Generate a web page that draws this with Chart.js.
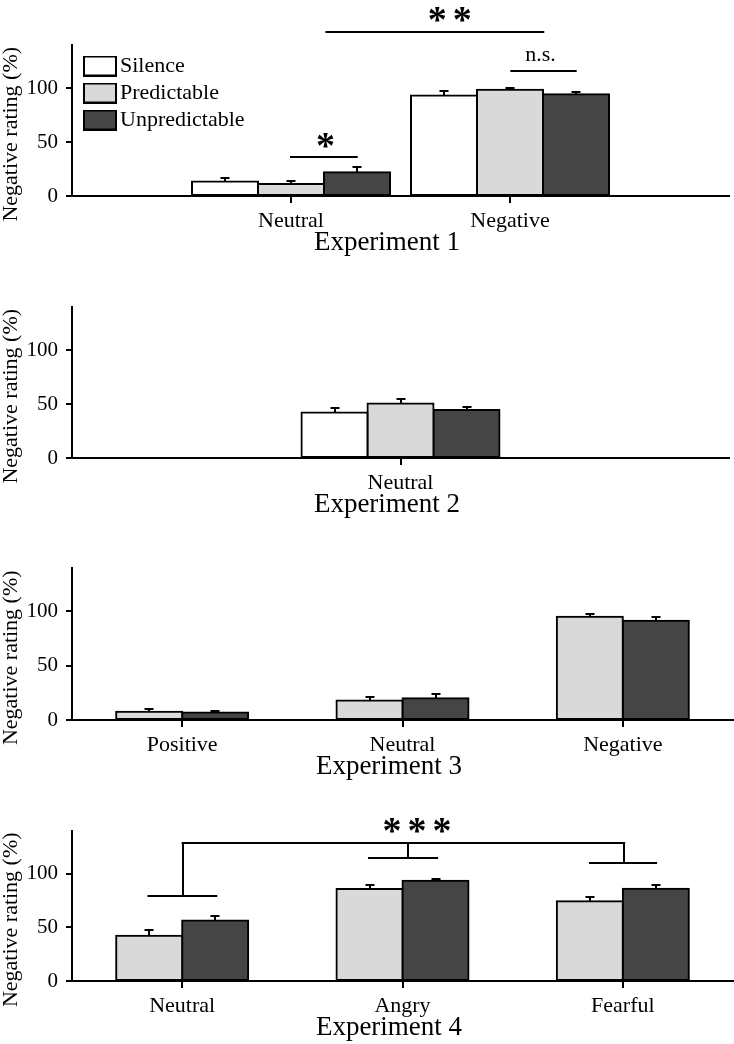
<!DOCTYPE html>
<html><head><meta charset="utf-8">
<script src="https://cdn.jsdelivr.net/npm/chart.js@4.4.0/dist/chart.umd.min.js"></script>
<style>
html,body{margin:0;padding:0;background:#fff;width:734px;height:1044px;overflow:hidden}
.p{position:absolute;left:0;width:734px}
canvas{display:block}
</style></head><body>
<div class="p" style="top:0px"><canvas id="c1" width="734" height="260"></canvas></div>
<div class="p" style="top:258px"><canvas id="c2" width="734" height="262"></canvas></div>
<div class="p" style="top:520px"><canvas id="c3" width="734" height="264"></canvas></div>
<div class="p" style="top:782px"><canvas id="c4" width="734" height="262"></canvas></div>
<script>
// ---------- DATA ----------
const seriesNames = ['Silence', 'Predictable', 'Unpredictable'];
const yTicks = [0, 50, 100];
const yMax = 140;
const yTitle = 'Negative rating (%)';

// Experiment 1
const exp1Categories = ['', 'Neutral', 'Negative', ''];
const exp1Silence = [null, 13.4, 93.2, null];
const exp1SilenceErr = [null, 3.6, 3.7, null];
const exp1Predictable = [null, 11.2, 98.4, null];
const exp1PredictableErr = [null, 2.5, 1.3, null];
const exp1Unpredictable = [null, 22.1, 94.4, null];
const exp1UnpredictableErr = [null, 4.7, 1.9, null];

// Experiment 2
const exp2Categories = ['', 'Neutral', ''];
const exp2Silence = [null, 42.3, null];
const exp2SilenceErr = [null, 3.7, null];
const exp2Predictable = [null, 50.6, null];
const exp2PredictableErr = [null, 4.3, null];
const exp2Unpredictable = [null, 44.4, null];
const exp2UnpredictableErr = [null, 2.5, null];

// Experiment 3
const exp3Categories = ['Positive', 'Neutral', 'Negative'];
const exp3Predictable = [7.7, 17.9, 95.1];
const exp3PredictableErr = [2.8, 3.7, 2.8];
const exp3Unpredictable = [6.8, 20.1, 91.4];
const exp3UnpredictableErr = [1.8, 3.7, 3.7];

// Experiment 4
const exp4Categories = ['Neutral', 'Angry', 'Fearful'];
const exp4Predictable = [42.3, 85.8, 74.4];
const exp4PredictableErr = [4.9, 4.0, 4.3];
const exp4Unpredictable = [56.5, 93.5, 86.1];
const exp4UnpredictableErr = [4.3, 2.1, 3.4];

const panelTitles = ['Experiment 1', 'Experiment 2', 'Experiment 3', 'Experiment 4'];

// Significance annotations (x in category-index units, y in data units)
const exp1SigLines = [[1.0, 1.3, 36.2], [2.006, 2.3, 115.9], [1.162, 2.152, 152]];
const exp1SigTexts = [['*', 1.158, 51.9], ['n.s.', 2.138, 129.8], ['**', 1.725, 168.3]];
const exp4SigLines = [[0.002, 2.006, 129.1], [-0.153, 0.155, 79.1], [0.848, 1.157, 115.2], [1.851, 2.151, 110.0]];
const exp4SigVLines = [[0.002, 129.1, 79.1], [1.024, 129.1, 115.2], [2.006, 129.1, 110.0]];
const exp4SigTexts = [['***', 1.066, 145.1]];

// ---------- STYLE ----------
const FONT = '"Liberation Serif", "Times New Roman", serif';
const seriesColors = {Silence: '#ffffff', Predictable: '#d9d9d9', Unpredictable: '#454545'};
Chart.defaults.font.family = FONT;
Chart.defaults.color = '#000';

function swatch(color) {
  const c = document.createElement('canvas');
  c.width = 48; c.height = 21;
  const g = c.getContext('2d');
  g.fillStyle = '#000'; g.fillRect(14, 0, 34, 21);
  g.fillStyle = color; g.fillRect(16, 2, 30, 17);
  return c;
}

const errorBarPlugin = {
  id: 'errorBars',
  afterDatasetsDraw(chart) {
    const ctx = chart.ctx, ys = chart.scales.y;
    chart.data.datasets.forEach((ds, di) => {
      const meta = chart.getDatasetMeta(di);
      meta.data.forEach((bar, i) => {
        const v = ds.data[i], e = ds.errors ? ds.errors[i] : null;
        if (v == null || e == null) return;
        const yTop = Math.round(ys.getPixelForValue(v + e));
        const bx = Math.round(bar.x);
        ctx.save();
        ctx.strokeStyle = '#000'; ctx.lineWidth = 2;
        ctx.beginPath();
        ctx.moveTo(bx, Math.round(bar.y)); ctx.lineTo(bx, yTop);
        ctx.moveTo(bx - 4.5, yTop); ctx.lineTo(bx + 4.5, yTop);
        ctx.stroke();
        ctx.restore();
      });
    });
  }
};

function sigPlugin(hLines, vLines, texts) {
  return {
    id: 'sig',
    afterDraw(chart) {
      const xs = chart.scales.x, ys = chart.scales.y, ctx = chart.ctx;
      ctx.save();
      ctx.strokeStyle = '#000'; ctx.lineWidth = 2; ctx.fillStyle = '#000';
      hLines.forEach(([a, b, v]) => {
        const py = Math.round(ys.getPixelForValue(v));
        ctx.beginPath();
        ctx.moveTo(xs.getPixelForValue(a) - 1, py); ctx.lineTo(xs.getPixelForValue(b) + 1, py);
        ctx.stroke();
      });
      vLines.forEach(([a, v1, v2]) => {
        const px = Math.round(xs.getPixelForValue(a));
        ctx.beginPath();
        ctx.moveTo(px, Math.round(ys.getPixelForValue(v1))); ctx.lineTo(px, Math.round(ys.getPixelForValue(v2)));
        ctx.stroke();
      });
      texts.forEach(([t, a, v]) => {
        const star = t.indexOf('*') >= 0;
        ctx.font = (star ? 'bold 38px ' : '22px ') + FONT;
        if ('letterSpacing' in ctx) ctx.letterSpacing = star ? '6px' : '0px';
        ctx.textAlign = 'left'; ctx.textBaseline = 'alphabetic';
        const m = ctx.measureText(t);
        const cx = xs.getPixelForValue(a), cy = ys.getPixelForValue(v);
        const x0 = cx - (m.actualBoundingBoxRight - m.actualBoundingBoxLeft) / 2;
        const y0 = cy + (m.actualBoundingBoxAscent - m.actualBoundingBoxDescent) / 2;
        ctx.fillText(t, x0, y0);
      });
      ctx.restore();
    }
  };
}

function makeChart(id, cats, series, offset, title, pad, legend, plugins) {
  const datasets = series.map(s => ({
    label: s.name,
    data: s.data,
    errors: s.err,
    backgroundColor: seriesColors[s.name],
    borderColor: '#000',
    borderWidth: 2,
    borderSkipped: false,
    inflateAmount: 1,
    barThickness: 66
  }));
  return new Chart(document.getElementById(id), {
    type: 'bar',
    data: {labels: cats, datasets},
    options: {
      responsive: false,
      animation: false,
      events: [],
      layout: {padding: {top: pad[0], bottom: pad[1], left: 0, right: 1}},
      scales: {
        x: {
          offset: offset,
          grid: {
            offset: false, drawOnChartArea: false, drawTicks: true, tickLength: 7, lineWidth: 2,
            color: c => (c.tick && c.tick.label) ? '#000' : 'rgba(0,0,0,0)'
          },
          border: {color: '#000', width: 2},
          ticks: {font: {size: 22}, padding: 5, autoSkip: false, maxRotation: 0, color: '#000'},
          title: {display: true, text: title + '\u00a0\u00a0\u00a0\u00a0', font: {size: 27, lineHeight: 1}, padding: {top: 0, bottom: 0}, color: '#000'},
          afterFit: s => { s.height = 60; }
        },
        y: {
          min: 0, max: yMax,
          afterBuildTicks: s => { s.ticks = yTicks.map(v => ({value: v})); },
          grid: {drawOnChartArea: false, drawTicks: true, tickLength: 6, lineWidth: 2, color: '#000'},
          border: {color: '#000', width: 2},
          ticks: {font: {size: 21}, padding: 8, color: '#000'},
          title: {display: true, text: yTitle + '\u00a0\u00a0\u00a0\u00a0\u00a0', font: {size: 22, lineHeight: 1}, padding: {top: 0, bottom: 0}, color: '#000'},
          afterFit: s => { s.width = 72; }
        }
      },
      plugins: {
        tooltip: {enabled: false},
        legend: legend ? {
          display: true, position: 'chartArea', align: 'start',
          title: {display: true, text: '', font: {size: 50, lineHeight: 1}, padding: 0},
          labels: {
            usePointStyle: true, pointStyleWidth: 32, padding: 5, color: '#000',
            font: {size: 22},
            generateLabels: ch => Chart.defaults.plugins.legend.labels.generateLabels(ch).map(it => {
              it.pointStyle = swatch(seriesColors[it.text]);
              return it;
            })
          }
        } : {display: false}
      }
    },
    plugins: [errorBarPlugin].concat(plugins || [])
  });
}

makeChart('c1', exp1Categories, [
  {name: seriesNames[0], data: exp1Silence, err: exp1SilenceErr},
  {name: seriesNames[1], data: exp1Predictable, err: exp1PredictableErr},
  {name: seriesNames[2], data: exp1Unpredictable, err: exp1UnpredictableErr}
], false, panelTitles[0], [45, 4], true, [sigPlugin(exp1SigLines, [], exp1SigTexts)]);

makeChart('c2', exp2Categories, [
  {name: seriesNames[0], data: exp2Silence, err: exp2SilenceErr},
  {name: seriesNames[1], data: exp2Predictable, err: exp2PredictableErr},
  {name: seriesNames[2], data: exp2Unpredictable, err: exp2UnpredictableErr}
], false, panelTitles[1], [49, 2], false);

makeChart('c3', exp3Categories, [
  {name: seriesNames[1], data: exp3Predictable, err: exp3PredictableErr},
  {name: seriesNames[2], data: exp3Unpredictable, err: exp3UnpredictableErr}
], true, panelTitles[2], [48, 4], false);

makeChart('c4', exp4Categories, [
  {name: seriesNames[1], data: exp4Predictable, err: exp4PredictableErr},
  {name: seriesNames[2], data: exp4Unpredictable, err: exp4UnpredictableErr}
], true, panelTitles[3], [49, 3], false, [sigPlugin(exp4SigLines, exp4SigVLines, exp4SigTexts)]);
</script>
</body></html>
